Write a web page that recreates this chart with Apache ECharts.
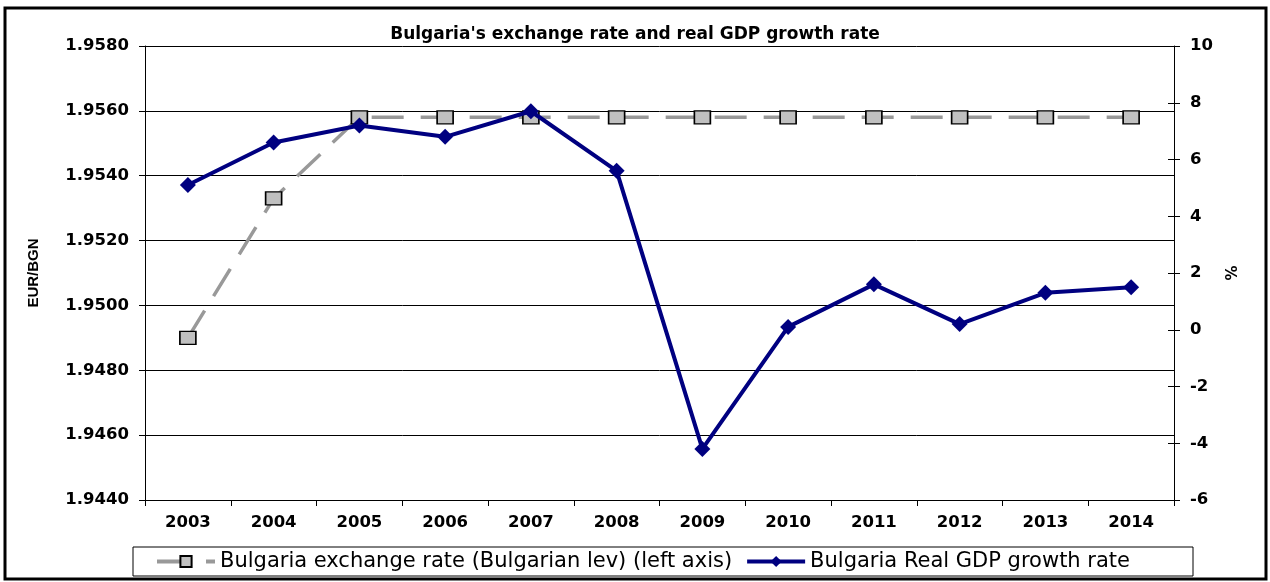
<!DOCTYPE html>
<html>
<head>
<meta charset="utf-8">
<title>Bulgaria's exchange rate and real GDP growth rate</title>
<script src="https://cdn.jsdelivr.net/npm/echarts@6/dist/echarts.min.js"></script>
<style>
  html, body { margin: 0; padding: 0; background: #ffffff; }
  #chart { width: 1270px; height: 582px; }
</style>
</head>
<body>
<div id="chart"></div>
<script>
// Years on the category axis
const years = ['2003', '2004', '2005', '2006', '2007', '2008', '2009', '2010', '2011', '2012', '2013', '2014'];
// EUR/BGN exchange rate (left axis)
const exchangeRate = [1.9490, 1.9533, 1.9558, 1.9558, 1.9558, 1.9558, 1.9558, 1.9558, 1.9558, 1.9558, 1.9558, 1.9558];
// Real GDP growth rate, % (right axis)
const gdpGrowth = [5.1, 6.6, 7.2, 6.8, 7.7, 5.6, -4.2, 0.1, 1.6, 0.2, 1.3, 1.5];
// Axis ranges
const leftAxisRange = { min: 1.9440, max: 1.9580, interval: 0.0020 };
const rightAxisRange = { min: -6, max: 10, interval: 2 };

const tickFont = { fontFamily: 'DejaVu Sans', fontWeight: 'bold', fontSize: 16.5, color: '#000000' };
const blackLine = { color: '#000000', width: 1 };

const chart = echarts.init(document.getElementById('chart'), null, { renderer: 'canvas' });

chart.setOption({
  animation: false,
  backgroundColor: '#ffffff',
  title: {
    text: "Bulgaria's exchange rate and real GDP growth rate",
    left: 'center',
    top: 21,
    textStyle: { fontFamily: 'DejaVu Sans', fontWeight: 'bold', fontSize: 17, color: '#000000' }
  },
  graphic: [{
    type: 'rect',
    silent: true,
    shape: { x: 5, y: 8, width: 1261, height: 571 },
    style: { fill: 'none', stroke: '#000000', lineWidth: 3 }
  }],
  legend: {
    left: 133,
    top: 547,
    padding: [4, 63, 4, 22],
    itemGap: 13,
    itemWidth: 58,
    itemHeight: 14,
    borderColor: '#000000',
    borderWidth: 1,
    lineStyle: { width: 4 },
    textStyle: { fontFamily: 'DejaVu Sans', fontSize: 21, color: '#000000' },
    data: ['Bulgaria exchange rate (Bulgarian lev) (left axis)', 'Bulgaria Real GDP growth rate']
  },
  grid: { left: 145, right: 96, top: 46, bottom: 82 },
  xAxis: {
    type: 'category',
    data: years,
    boundaryGap: true,
    axisLine: { onZero: false, lineStyle: blackLine },
    axisTick: { show: true, length: 6, lineStyle: blackLine },
    axisLabel: Object.assign({ margin: 14 }, tickFont),
    splitLine: { show: false }
  },
  yAxis: [
    {
      type: 'value',
      position: 'left',
      min: leftAxisRange.min,
      max: leftAxisRange.max,
      interval: leftAxisRange.interval,
      name: 'EUR/BGN',
      nameLocation: 'middle',
      nameRotate: 90,
      nameGap: 104,
      nameTextStyle: { fontFamily: 'Liberation Sans', fontWeight: 'bold', fontSize: 15, color: '#000000' },
      axisLine: { show: true, lineStyle: blackLine },
      axisTick: { show: true, length: 6, lineStyle: blackLine },
      axisLabel: Object.assign({ margin: 16, formatter: v => v.toFixed(4) }, tickFont),
      splitLine: { show: true, lineStyle: blackLine }
    },
    {
      type: 'value',
      position: 'right',
      min: rightAxisRange.min,
      max: rightAxisRange.max,
      interval: rightAxisRange.interval,
      name: '%',
      nameLocation: 'middle',
      nameRotate: 90,
      nameGap: 52,
      nameTextStyle: { fontFamily: 'DejaVu Sans', fontWeight: 'bold', fontSize: 15, color: '#000000' },
      axisLine: { show: true, lineStyle: blackLine },
      axisTick: { show: true, length: 6, lineStyle: blackLine },
      axisLabel: Object.assign({ margin: 16 }, tickFont),
      splitLine: { show: false }
    },
    {
      // inner half of the right-axis cross ticks
      type: 'value',
      position: 'right',
      min: rightAxisRange.min,
      max: rightAxisRange.max,
      interval: rightAxisRange.interval,
      axisLine: { show: false },
      axisTick: { show: true, inside: true, length: 6, lineStyle: blackLine },
      axisLabel: { show: false },
      splitLine: { show: false }
    }
  ],
  series: [
    {
      name: 'Bulgaria exchange rate (Bulgarian lev) (left axis)',
      type: 'line',
      yAxisIndex: 0,
      data: exchangeRate,
      symbol: 'rect',
      symbolSize: [16, 13],
      itemStyle: { color: '#c0c0c0', borderColor: '#000000', borderWidth: 1.5 },
      lineStyle: { color: '#999999', width: 3.5, type: [32, 17] },
      z: 2
    },
    {
      name: 'Bulgaria Real GDP growth rate',
      type: 'line',
      yAxisIndex: 1,
      data: gdpGrowth,
      symbol: 'diamond',
      symbolSize: 16,
      itemStyle: { color: '#000080' },
      lineStyle: { color: '#000080', width: 4 },
      z: 3
    }
  ]
});
</script>
</body>
</html>
